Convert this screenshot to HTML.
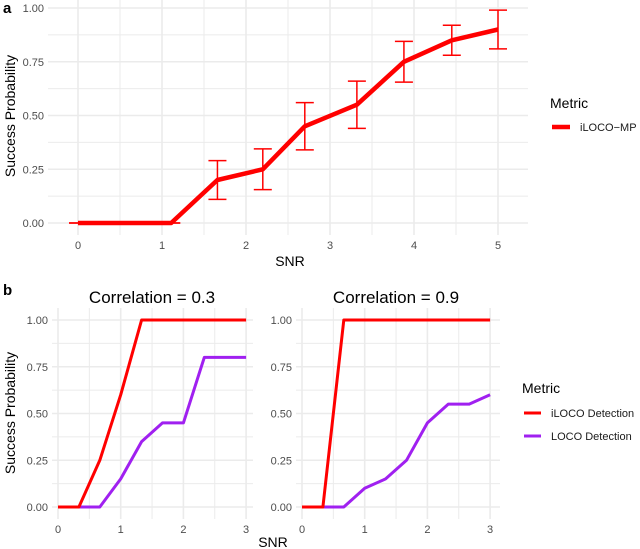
<!DOCTYPE html>
<html><head><meta charset="utf-8"><style>
body{margin:0;background:#fff;}
svg{display:block;font-family:"Liberation Sans",Arial,sans-serif;}
.tick{fill:#4d4d4d;font-size:11px;}
.ttl{fill:#000;font-size:14px;}
.grid{stroke:#ebebeb;stroke-width:1;}
.gridm{stroke:#ebebeb;stroke-width:1.6;}
</style></head><body>
<svg id="chart" width="640" height="549" viewBox="0 0 640 549"></svg>
<script>
// Panel a data
const aSnr = [0, 1.11, 1.66, 2.2, 2.7, 3.32, 3.88, 4.45, 5];
const aVal = [0, 0, 0.2, 0.25, 0.45, 0.55, 0.75, 0.85, 0.9];
const aLo  = [0, 0, 0.11, 0.155, 0.34, 0.44, 0.655, 0.78, 0.81];
const aHi  = [0, 0, 0.29, 0.345, 0.56, 0.66, 0.845, 0.92, 0.99];
const aXTicks = [0, 1, 2, 3, 4, 5];
const yTicks = [0, 0.25, 0.5, 0.75, 1];
const yTickLabels = ["0.00", "0.25", "0.50", "0.75", "1.00"];
// Panel b data
const bSnr = [0, 0.333, 0.667, 1, 1.333, 1.667, 2, 2.333, 2.667, 3];
const bILOCO03 = [0, 0, 0.25, 0.6, 1, 1, 1, 1, 1, 1];
const bLOCO03  = [0, 0, 0, 0.15, 0.35, 0.45, 0.45, 0.8, 0.8, 0.8];
const bILOCO09 = [0, 0, 1, 1, 1, 1, 1, 1, 1, 1];
const bLOCO09  = [0, 0, 0, 0.1, 0.15, 0.25, 0.45, 0.55, 0.55, 0.6];
const bXTicks = [0, 1, 2, 3];

const svg = document.getElementById('chart');
const NS = 'http://www.w3.org/2000/svg';
function mk(tag, attrs, parent, text){
  const e = document.createElementNS(NS, tag);
  for (const k in attrs) e.setAttribute(k, attrs[k]);
  if (text !== undefined) e.textContent = text;
  (parent || svg).appendChild(e);
  return e;
}
function panel(name, x0px, xScale, xMin, xMax, yTop, yBot, left, right, xticks){
  const sx = v => x0px + v * xScale;
  const sy = v => yBot - v * (yBot - yTop);
  const g = mk('g', {});
  
  
  const t0 = yTop - 12, t1 = yBot + 12;
  // minor gridlines
  for (let i = 0; i < yTicks.length - 1; i++) {
    const v = (yTicks[i] + yTicks[i+1]) / 2;
    mk('line', {x1:left, x2:right, y1:sy(v), y2:sy(v), class:'grid'}, g);
  }
  for (let i = 0; i < xticks.length - 1; i++) {
    const v = (xticks[i] + xticks[i+1]) / 2;
    mk('line', {x1:sx(v), x2:sx(v), y1:t0, y2:t1, class:'grid'}, g);
  }
  yTicks.forEach((v, i) => {
    mk('line', {x1:left, x2:right, y1:sy(v), y2:sy(v), class:'gridm'}, g);
    const t = mk('text', {x:left - 4, y:sy(v) + 4, 'text-anchor':'end', class:'tick'}, g, yTickLabels[i]);
    
    
  });
  xticks.forEach(v => {
    mk('line', {x1:sx(v), x2:sx(v), y1:t0, y2:t1, class:'gridm'}, g);
    const t = mk('text', {x:sx(v), y:t1 + 14, 'text-anchor':'middle', class:'tick'}, g, String(v));
    
    
  });
  return {g, sx, sy};
}
function line(g, sx, sy, xs, ys, color, w, name){
  const d = xs.map((x, i) => (i ? 'L' : 'M') + sx(x).toFixed(1) + ',' + sy(ys[i]).toFixed(1)).join(' ');
  const p = mk('path', {d, fill:'none', stroke:color, 'stroke-width':w, 'stroke-linejoin':'round'}, g);
  
  
}
function txt(x, y, s, size, name, extra){
  const t = mk('text', Object.assign({x, y, 'font-size':size, fill:'#000'}, extra || {}), svg, s);
  
  
}

// Panel a
const A = panel('panel-a', 78, 84, 0, 5, 8, 223, 48, 528, aXTicks);
aSnr.forEach((x, i) => {
  const X = A.sx(x);
  const eb = mk('g', {stroke:'#ff0000', 'stroke-width':1.5}, A.g);
  
  
  mk('line', {x1:X, x2:X, y1:A.sy(aLo[i]), y2:A.sy(aHi[i])}, eb);
  mk('line', {x1:X-9, x2:X+9, y1:A.sy(aLo[i]), y2:A.sy(aLo[i])}, eb);
  mk('line', {x1:X-9, x2:X+9, y1:A.sy(aHi[i]), y2:A.sy(aHi[i])}, eb);
});
line(A.g, A.sx, A.sy, aSnr, aVal, '#ff0000', 4.5, 'iloco-mp-line');
txt(3, 13, 'a', 15, 'panel-a-label', {'font-weight':'bold'});
txt(290, 266, 'SNR', 14, 'x-axis-title-a', {'text-anchor':'middle'});
txt(0, 0, 'Success Probability', 14, 'y-axis-title-a', {'text-anchor':'middle', transform:'translate(15,116) rotate(-90)'});
txt(550, 108, 'Metric', 14, 'legend-title-a');
mk('line', {x1:552, x2:570, y1:127, y2:127, stroke:'#ff0000', 'stroke-width':4.5});
txt(580, 131, 'iLOCO\u2212MP', 11, 'legend-entry-iloco-mp', {fill:'#1a1a1a'});

// Panel b left
const B1 = panel('panel-b-corr-0.3', 58, 62.7, 0, 3, 320, 507, 52, 253, bXTicks);
line(B1.g, B1.sx, B1.sy, bSnr, bLOCO03, '#a020f0', 3, 'loco-line-0.3');
line(B1.g, B1.sx, B1.sy, bSnr, bILOCO03, '#ff0000', 3, 'iloco-line-0.3');
// Panel b right
const B2 = panel('panel-b-corr-0.9', 302, 62.7, 0, 3, 320, 507, 296, 500, bXTicks);
line(B2.g, B2.sx, B2.sy, bSnr, bLOCO09, '#a020f0', 3, 'loco-line-0.9');
line(B2.g, B2.sx, B2.sy, bSnr, bILOCO09, '#ff0000', 3, 'iloco-line-0.9');

txt(3, 295, 'b', 15, 'panel-b-label', {'font-weight':'bold'});
txt(152, 303, 'Correlation = 0.3', 17, 'facet-title-0.3', {'text-anchor':'middle'});
txt(396, 303, 'Correlation = 0.9', 17, 'facet-title-0.9', {'text-anchor':'middle'});
txt(273, 547, 'SNR', 14, 'x-axis-title-b', {'text-anchor':'middle'});
txt(0, 0, 'Success Probability', 14, 'y-axis-title-b', {'text-anchor':'middle', transform:'translate(15,413) rotate(-90)'});
txt(522, 393, 'Metric', 14, 'legend-title-b');
mk('line', {x1:524, x2:541, y1:413, y2:413, stroke:'#ff0000', 'stroke-width':3});
txt(551, 417, 'iLOCO Detection', 11, 'legend-entry-iloco', {fill:'#1a1a1a'});
mk('line', {x1:524, x2:541, y1:436, y2:436, stroke:'#a020f0', 'stroke-width':3});
txt(551, 440, 'LOCO Detection', 11, 'legend-entry-loco', {fill:'#1a1a1a'});
</script>
</body></html>
